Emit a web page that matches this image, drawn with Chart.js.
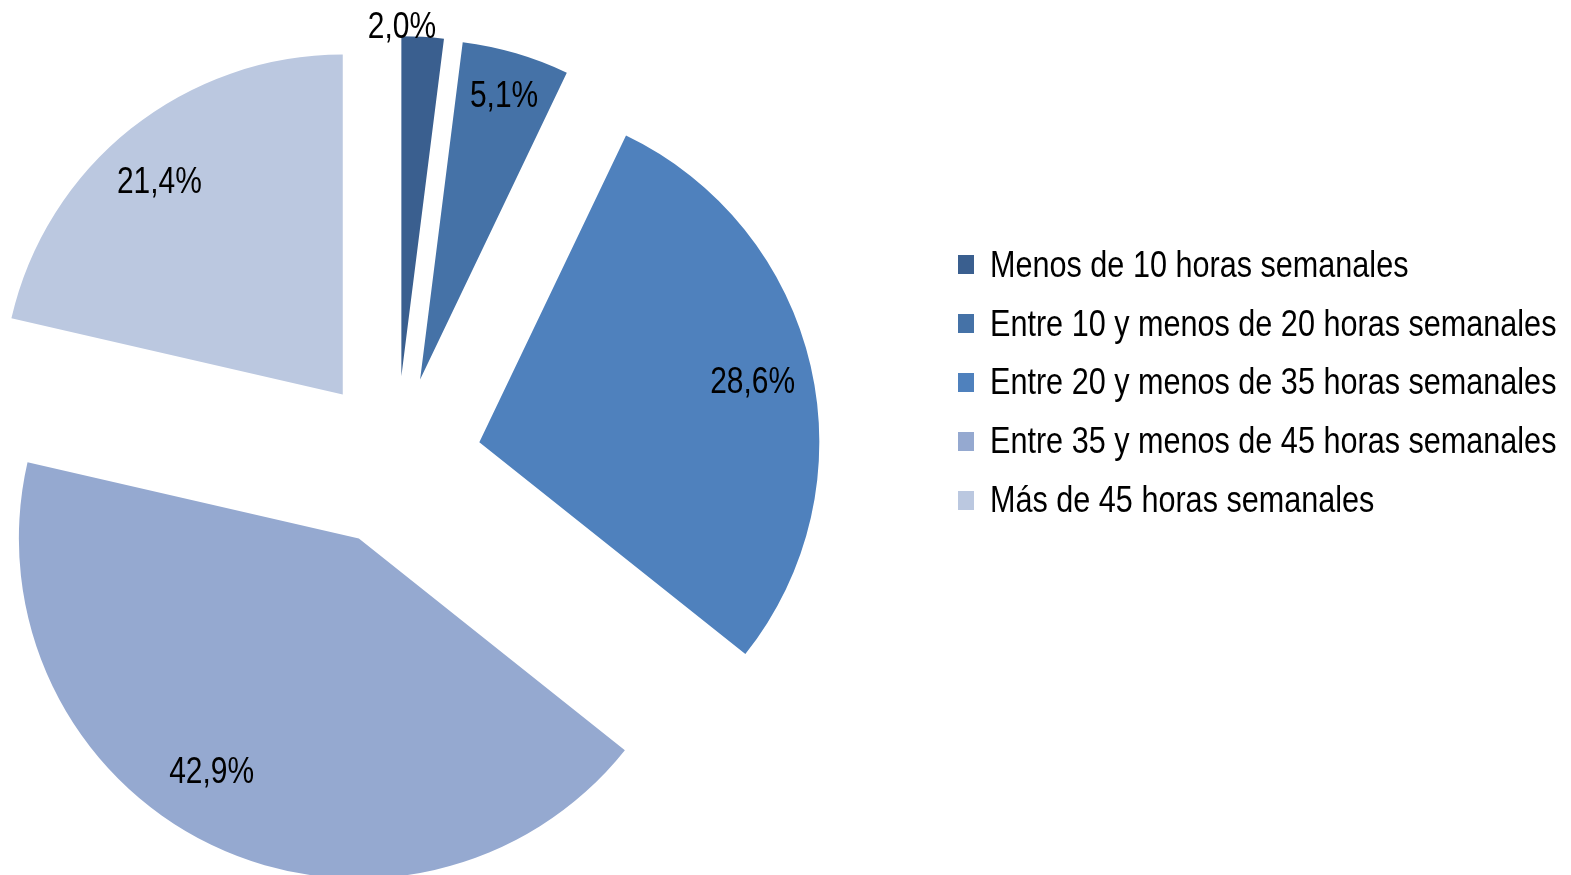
<!DOCTYPE html>
<html lang="es">
<head>
<meta charset="utf-8">
<title>Horas semanales</title>
<script src="https://cdn.jsdelivr.net/npm/chart.js@4/dist/chart.umd.min.js"></script>
<style>
    html, body { margin: 0; padding: 0; background: #fff; }
    #wrap { position: relative; width: 1571px; height: 875px; }
    #legend { position: absolute; left: 958px; top: 235.5px; margin: 0; padding: 0; list-style: none;
        font-family: 'Liberation Sans', Arial, sans-serif; font-size: 36px; color: #000; }
    #legend li { height: 58.8px; display: flex; align-items: center; white-space: nowrap; }
    #legend span.box { display: inline-block; width: 16px; height: 19px; margin-right: 15.5px; }
    #legend span.txt { display: inline-block; transform: scaleX(0.85); transform-origin: left center; }
</style>
</head>
<body>
<div id="wrap">
    <canvas id="hoursChart"></canvas>
    <ul id="legend"></ul>
</div>
<script>
// Data
const categories = [
    'Menos de 10 horas semanales',
    'Entre 10 y menos de 20 horas semanales',
    'Entre 20 y menos de 35 horas semanales',
    'Entre 35 y menos de 45 horas semanales',
    'Más de 45 horas semanales'
];
const shares = [2.0, 5.1, 28.6, 42.9, 21.4];
const sliceColors = ['#3A5F8F', '#4572A7', '#4F81BD', '#95A9D0', '#BBC8E0'];

const labelSize = 37;
const labelFont = labelSize + "px 'Liberation Sans', Arial, sans-serif";

// Chart.js grows big slices when offset is used; undo that so every slice keeps the same radius
const flatExplode = {
    id: 'flatExplode',
    beforeDatasetsDraw(chart) {
        chart.getDatasetMeta(0).data.forEach(arc => {
            const shift = (arc.options.offset || 0) / 4;
            const grow = shift * (1 - Math.sin(Math.min(Math.PI, arc.circumference)));
            const trim = grow / (2 * Math.PI * arc.outerRadius);
            arc.$saved = [arc.outerRadius, arc.startAngle, arc.endAngle];
            arc.outerRadius -= grow;
            arc.startAngle -= trim;
            arc.endAngle += trim;
        });
    },
    afterDatasetsDraw(chart) {
        chart.getDatasetMeta(0).data.forEach(arc => {
            if (arc.$saved) {
                [arc.outerRadius, arc.startAngle, arc.endAngle] = arc.$saved;
                delete arc.$saved;
            }
        });
    }
};

// Percentage labels placed from each arc's own geometry (narrowed like Arial Narrow)
const pctLabels = {
    id: 'pctLabels',
    afterDatasetsDraw(chart, args, opts) {
        const ctx = chart.ctx;
        const meta = chart.getDatasetMeta(0);
        const values = chart.data.datasets[0].data;
        meta.data.forEach((arc, i) => {
            const mid = (arc.startAngle + arc.endAngle) / 2;
            const shift = (arc.options.offset || 0) / 4;
            const ax = arc.x + Math.cos(mid) * shift;
            const ay = arc.y + Math.sin(mid) * shift;
            const ang = mid + (opts.nudge[i] || 0) * Math.PI / 180;
            const r = arc.outerRadius * opts.radial[i];
            const txt = values[i].toFixed(1).replace('.', ',') + '%';
            ctx.save();
            ctx.translate(ax + Math.cos(ang) * r, ay + Math.sin(ang) * r);
            ctx.scale(0.81, 1);
            ctx.font = labelFont;
            ctx.fillStyle = '#000';
            ctx.textAlign = 'center';
            ctx.textBaseline = 'alphabetic';
            ctx.fillText(txt, 0, labelSize * 0.358);
            ctx.restore();
        });
    }
};

const ctx = document.getElementById('hoursChart').getContext('2d');
const hoursChart = new Chart(ctx, {
    type: 'pie',
    data: {
        labels: categories,
        datasets: [{
            data: shares,
            backgroundColor: sliceColors,
            borderWidth: 0,
            offset: 342
        }]
    },
    options: {
        responsive: true,
        maintainAspectRatio: false,
        animation: false,
        radius: 340,
        layout: { padding: { left: 0, right: 779, top: 48, bottom: 0 } },
        events: [],
        plugins: {
            legend: { display: false },
            tooltip: { enabled: false },
            pctLabels: {
                radial: [1.035, 0.876, 0.825, 0.807, 0.83],
                nudge: [-3.5, 0, 0, 6.7, -2]
            }
        }
    },
    plugins: [flatExplode, pctLabels]
});

// HTML legend built from the same arrays
const legendEl = document.getElementById('legend');
categories.forEach((name, i) => {
    const li = document.createElement('li');
    const box = document.createElement('span');
    box.className = 'box';
    box.style.background = sliceColors[i];
    const txt = document.createElement('span');
    txt.className = 'txt';
    txt.textContent = name;
    li.appendChild(box);
    li.appendChild(txt);
    legendEl.appendChild(li);
});
</script>
</body>
</html>
